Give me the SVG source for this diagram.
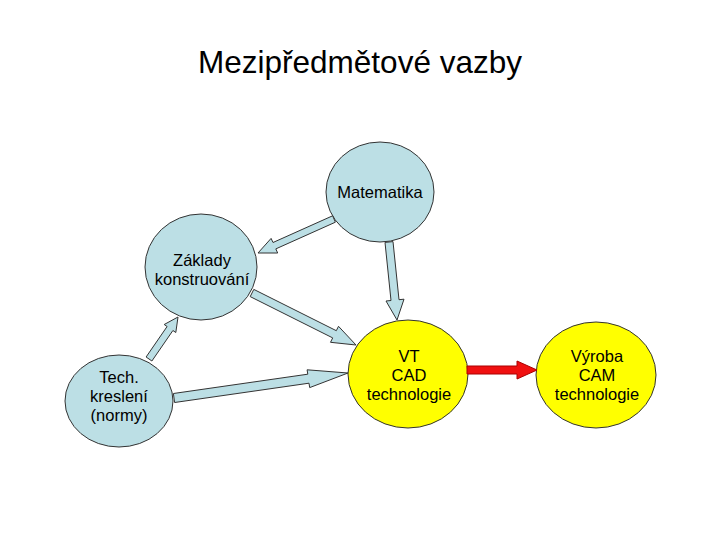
<svg xmlns="http://www.w3.org/2000/svg" width="720" height="540" viewBox="0 0 720 540">
<style>
.blue{fill:#bcdfe5;stroke:#333;stroke-width:1}
.yel{fill:#ffff00;stroke:#333;stroke-width:1}
.arr{fill:#bcdfe5;stroke:#333;stroke-width:1;stroke-linejoin:miter}
.red{fill:#f01010;stroke:#a00;stroke-width:1}
.t{font-family:"Liberation Sans",Arial,sans-serif;font-size:16.5px;fill:#000;text-anchor:middle}
.title{font-family:"Liberation Sans",Arial,sans-serif;font-size:31.5px;fill:#000;text-anchor:middle}
</style>
<rect width="720" height="540" fill="#fff"/>
<text class="title" x="360" y="73">Mezipředmětové vazby</text>
<g id="matematika">
<ellipse class="blue" cx="380" cy="192" rx="54" ry="50"/>
<text class="t" x="380" y="198">Matematika</text>
</g>
<g id="zaklady">
<ellipse class="blue" cx="201" cy="267" rx="56" ry="53"/>
<text class="t" x="202" y="266">Základy</text>
<text class="t" x="202" y="285">konstruování</text>
</g>
<g id="tech">
<ellipse class="blue" cx="119" cy="401" rx="54" ry="46"/>
<text class="t" x="119" y="383">Tech.</text>
<text class="t" x="119" y="402">kreslení</text>
<text class="t" x="119" y="421">(normy)</text>
</g>
<g id="vt">
<ellipse class="yel" cx="408" cy="374" rx="60" ry="54"/>
<text class="t" x="409" y="362">VT</text>
<text class="t" x="409" y="381">CAD</text>
<text class="t" x="409" y="400">technologie</text>
</g>
<g id="vyroba">
<ellipse class="yel" cx="596" cy="375" rx="60" ry="53"/>
<text class="t" x="597" y="362">Výroba</text>
<text class="t" x="597" y="381">CAM</text>
<text class="t" x="597" y="400">technologie</text>
</g>
<g id="connectors">
<polygon class="arr" points="332.6,215.8 273.0,242.5 271.1,238.4 258,253 277.7,253.0 275.8,248.9 335.4,222.2"/>
<polygon class="arr" points="385.0,242.4 391.0,300.5 386.0,301.0 397,320 404.0,299.2 399.0,299.7 393.0,241.6"/>
<polygon class="arr" points="250.2,296.6 332.7,337.9 330.5,342.3 356,345 338.5,326.3 336.3,330.7 253.8,289.4"/>
<polygon class="arr" points="151.9,361.0 172.9,330.5 175.8,332.5 178,317 164.2,324.5 167.1,326.5 146.1,357.0"/>
<polygon class="arr" points="174.6,402.5 309.0,383.2 309.7,387.6 348,373 307.1,369.8 307.8,374.2 173.4,393.5"/>
<polygon class="red" points="467,366 517,366 517,361 537,370 517,379 517,374 467,374"/>
</g>
</svg>
